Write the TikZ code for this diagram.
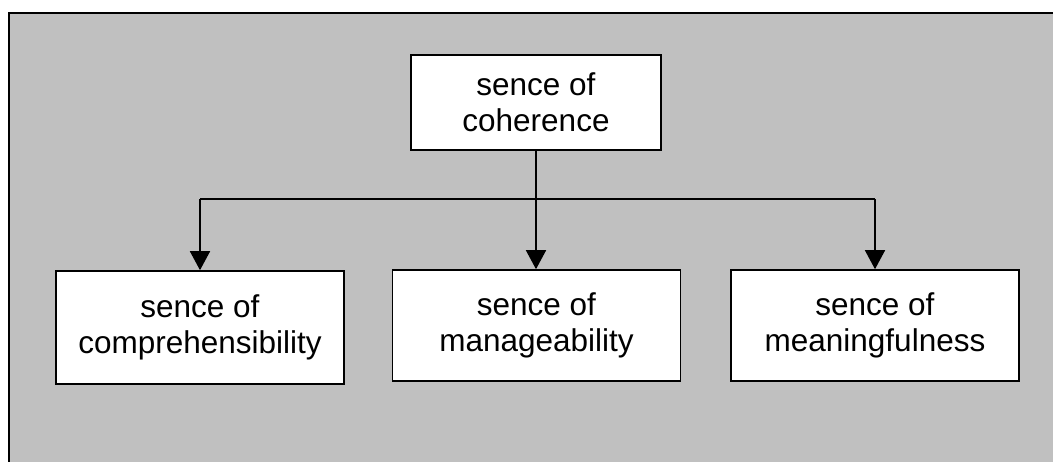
\documentclass[tikz,border=0pt]{standalone}
\usepackage{fontspec}
\setmainfont{Liberation Sans}
\usetikzlibrary{arrows.meta}
\definecolor{paneGray}{RGB}{192,192,192}

\begin{document}
\begin{tikzpicture}[x=1pt, y=-1pt,
  box/.style={draw, fill=white, line width=1.6pt, align=center, inner sep=0pt,
    minimum width=288pt, minimum height=111pt, font=\fontsize{31.5}{36}\selectfont},
  link/.style={line width=1.6pt, -{Triangle[length=19pt, width=20pt]}}]
  \useasboundingbox (0,0) rectangle (1053,462);
  \draw[line width=2pt, fill=paneGray] (9,13) rectangle (1070,480);

  % top and bottom row
  \node[box, minimum width=250pt, minimum height=95pt] (coh) at (536,102.5) {sence of\\coherence};
  \node[box, minimum height=113pt] (comp) at (200,327.5) {sence of\\comprehensibility};
  \node[box] (manage) at (536.5,325.5) {sence of\\manageability};
  \node[box] (mean) at (875,325.5) {sence of\\meaningfulness};

  \coordinate (split) at (536,199);
  \draw[line width=1.6pt] (coh.south) -- (split);
  \draw[line width=1.6pt] (comp.north |- split) -- (mean.north |- split);
  \draw[link] (comp.north |- split) -- (comp.north);
  \draw[link] (split) -- (split |- manage.north);
  \draw[link] (mean.north |- split) -- (mean.north);
\end{tikzpicture}
\end{document}
